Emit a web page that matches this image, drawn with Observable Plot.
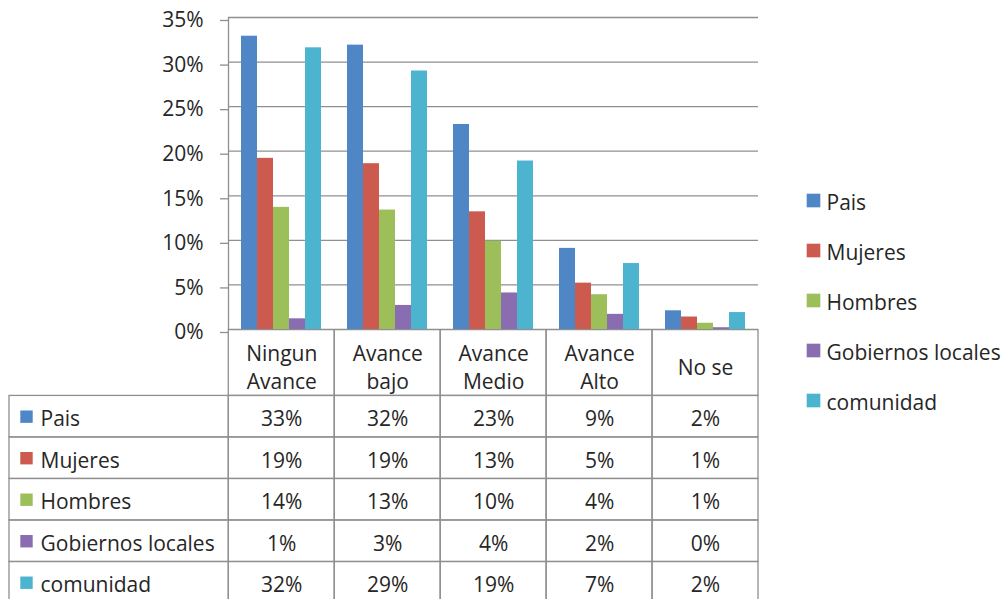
<!DOCTYPE html>
<html>
<head>
<meta charset="utf-8">
<script src="https://cdn.jsdelivr.net/npm/d3@7"></script>
<script src="https://cdn.jsdelivr.net/npm/@observablehq/plot@0.6"></script>
<style>
  html, body { margin: 0; padding: 0; background: #fff; }
  #root { position: relative; width: 1008px; height: 599px; overflow: hidden; font-family: "Open Sans", sans-serif; }
  #root > div, #root > svg { position: absolute; }
</style>
</head>
<body>
<div id="root"></div>
<script>
// ---- data ----
const categories = ["Ningun\nAvance", "Avance\nbajo", "Avance\nMedio", "Avance\nAlto", "No se"];
const seriesNames = ["Pais", "Mujeres", "Hombres", "Gobiernos locales", "comunidad"];
const pais      = [32.9, 31.9, 23.0, 9.1, 2.1];
const mujeres   = [19.2, 18.6, 13.2, 5.2, 1.4];
const hombres   = [13.7, 13.4, 9.9, 3.9, 0.7];
const gobiernos = [1.2, 2.7, 4.1, 1.7, 0.2];
const comunidad = [31.6, 29.0, 18.9, 7.4, 1.9];
const yTicks = [0, 5, 10, 15, 20, 25, 30, 35];
const colors = ["#4F86C6", "#CD5A4F", "#9DBF5A", "#8A6DB0", "#4DB4D0"];

const seriesValues = [pais, mujeres, hombres, gobiernos, comunidad];
const barData = [];
seriesNames.forEach((s, si) => categories.forEach((c, ci) => {
  barData.push({series: s, category: c, value: seriesValues[si][ci], si, ci});
}));

const gridColor = "#8f8f8f";
const textColor = "#262626";
const font = "Open Sans";
const fs = 21;
const root = document.getElementById("root");

// ---- chart ----
function chartOptions(extraMarks) {
  return {
    width: 760, height: 362,
    marginLeft: 228, marginRight: 2, marginTop: 17, marginBottom: 33,
    style: {fontFamily: font, fontSize: fs + "px", color: textColor, background: "transparent"},
    fx: {domain: categories, padding: 0, axis: null},
    x: {domain: seriesNames, paddingInner: 0, paddingOuter: 0.74, axis: null},
    y: {domain: [0, 35], axis: null},
    color: {domain: seriesNames, range: colors},
    marks: [
      Plot.ruleY(yTicks, {stroke: gridColor, strokeWidth: 1.3}),
      Plot.barY(barData, {fx: "category", x: "series", y: "value", fill: "series"}),
      Plot.axisY(yTicks, {label: null, tickSize: 8, tickPadding: 17, tickFormat: d => d + "%", stroke: gridColor, strokeWidth: 1.3, fill: textColor, dy: 3, fontSize: fs}),
      ...extraMarks
    ]
  };
}
// first pass: read the inner band scale to place the value-axis line at the left edge of the first group
const probe = Plot.plot(chartOptions([]));
const xs = probe.scale("x");
const axisDx = -(xs.apply(seriesNames[0]) - xs.range[0]) - xs.bandwidth / 2;
const chart = Plot.plot(chartOptions([
  Plot.ruleX([seriesNames[0]], {x: d => d, fx: () => categories[0], y1: 0, y2: 35, dx: axisDx, stroke: gridColor, strokeWidth: 1.3})
]));
chart.style.left = "0px"; chart.style.top = "0px";
root.appendChild(chart);

// ---- data table ----
const labelCols = 2.07;   // width of the label column, in category columns
const headerRows = 1.6;   // height of the header row, in body rows
const tableCells = [];
categories.forEach((c, ci) => tableCells.push({x1: ci, x2: ci + 1, y1: -headerRows, y2: 0}));
seriesNames.forEach((s, si) => {
  tableCells.push({x1: -labelCols, x2: 0, y1: si, y2: si + 1});
  categories.forEach((c, ci) => tableCells.push({x1: ci, x2: ci + 1, y1: si, y2: si + 1}));
});
const table = Plot.plot({
  width: 760, height: 274,
  marginLeft: 9, marginRight: 2, marginTop: 0, marginBottom: 0,
  style: {fontFamily: font, fontSize: fs + "px", color: textColor, background: "transparent"},
  x: {domain: [-labelCols, categories.length], axis: null},
  y: {domain: [-headerRows, seriesNames.length], reverse: true, axis: null},
  color: {domain: seriesNames, range: colors},
  marks: [
    Plot.rect(tableCells, {x1: "x1", x2: "x2", y1: "y1", y2: "y2", fill: "none", stroke: gridColor, strokeWidth: 1.3}),
    Plot.text(categories, {x: (d, i) => i + 0.5, y: -headerRows / 2, text: d => d, lineHeight: 1.38, dy: 3, fill: textColor, fontSize: fs}),
    Plot.text(barData, {x: d => d.ci + 0.5, y: d => d.si + 0.5, text: d => Math.round(d.value) + "%", dy: 3, fill: textColor, fontSize: fs}),
    Plot.dot(seriesNames, {x: -labelCols, y: (d, i) => i + 0.5, dx: 17, symbol: "square", r: 7, fill: d => d}),
    Plot.text(seriesNames, {x: -labelCols, y: (d, i) => i + 0.5, dx: 31, dy: 3, text: d => d, textAnchor: "start", fill: textColor, fontSize: fs})
  ]
});
table.style.left = "0px"; table.style.top = "329px";
root.appendChild(table);

// ---- legend ----
const legend = Plot.plot({
  width: 218, height: 260,
  marginLeft: 23, marginRight: 0, marginTop: 33, marginBottom: 27,
  style: {fontFamily: font, fontSize: fs + "px", color: textColor, background: "transparent"},
  y: {type: "point", domain: seriesNames, padding: 0, axis: null},
  color: {domain: seriesNames, range: colors},
  marks: [
    Plot.dot(seriesNames, {y: d => d, frameAnchor: "left", symbol: "square", r: 7.7, fill: d => d, dy: -3}),
    Plot.text(seriesNames, {y: d => d, frameAnchor: "left", dx: 13, text: d => d, textAnchor: "start", fill: textColor, fontSize: fs})
  ]
});
legend.style.left = "790px"; legend.style.top = "170px";
root.appendChild(legend);
</script>
</body>
</html>
